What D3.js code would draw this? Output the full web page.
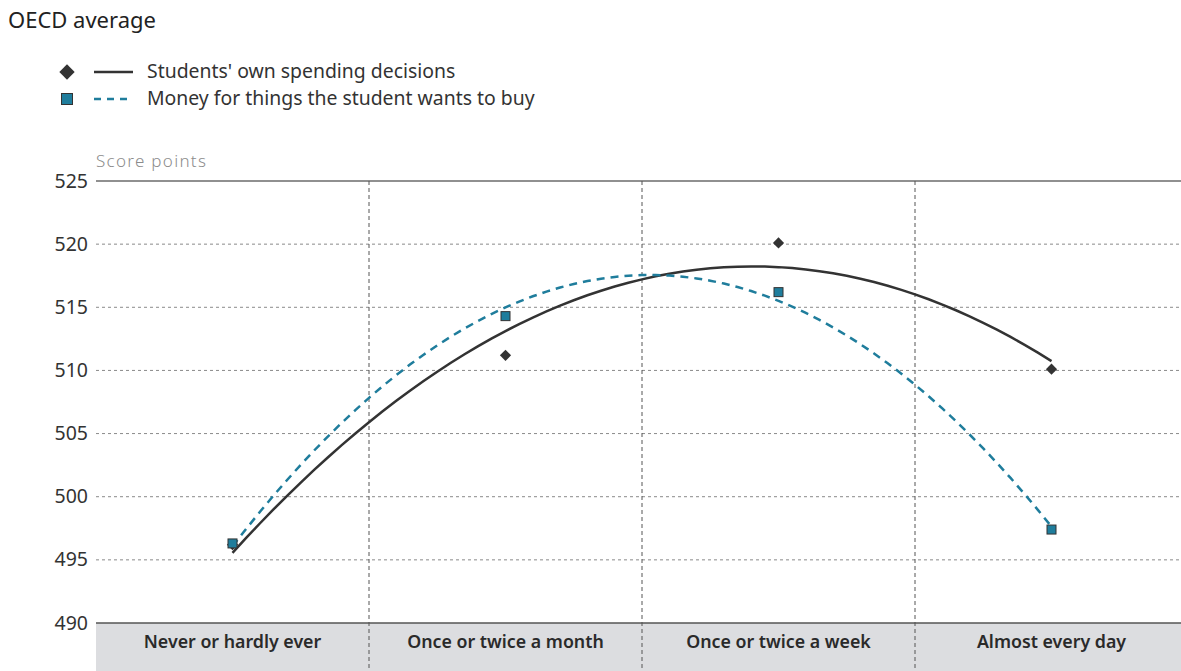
<!DOCTYPE html>
<html>
<head>
<meta charset="utf-8">
<script src="https://cdn.jsdelivr.net/npm/d3@7"></script>
<style>
  body { margin: 0; background: #fff; }
  svg { display: block; font-family: "Noto Sans", "Open Sans", sans-serif; }
</style>
</head>
<body>
<div id="chart"></div>
<script>
// categories and values
var categories = ["Never or hardly ever", "Once or twice a month", "Once or twice a week", "Almost every day"];
var ownSpending = [496.2, 511.2, 520.1, 510.1];
var moneyToBuy = [496.3, 514.3, 516.2, 497.4];
var yTicks = [490, 495, 500, 505, 510, 515, 520, 525];

var W = 1181, H = 671;
var plot = {left: 96, right: 1188, top: 181, bottom: 623};
var dark = "#333333", teal = "#1f7d9c";

var svg = d3.select("#chart").append("svg")
    .attr("width", W)
    .attr("height", H);

var x = d3.scaleBand()
    .domain(categories)
    .range([plot.left, plot.right]);

var y = d3.scaleLinear()
    .domain([490, 525])
    .range([plot.bottom, plot.top]);

// index -> pixel, for the fitted curves
var xi = d3.scaleLinear()
    .domain([0, categories.length - 1])
    .range([x(categories[0]) + x.bandwidth() / 2, x(categories[categories.length - 1]) + x.bandwidth() / 2]);

//category band at the bottom
svg.append("rect")
    .attr("x", plot.left)
    .attr("y", plot.bottom)
    .attr("width", W - plot.left)
    .attr("height", H - plot.bottom)
    .attr("fill", "#dcdde0");

//horizontal grid
svg.selectAll(".grid")
    .data(yTicks.filter(function (d) { return d != 490 && d != 525; }))
    .enter().append("line")
    .attr("x1", plot.left).attr("x2", W)
    .attr("y1", function (d) { return y(d); })
    .attr("y2", function (d) { return y(d); })
    .attr("stroke", "#8a8a8a")
    .attr("stroke-width", 1)
    .attr("stroke-dasharray", "3,3");

[525, 490].forEach(function (v) {
    svg.append("line")
        .attr("x1", plot.left).attr("x2", W)
        .attr("y1", y(v)).attr("y2", y(v))
        .attr("stroke", v == 525 ? "#222" : "#555")
        .attr("stroke-width", v == 525 ? 1.2 : 1.5);
});

//vertical separators between categories
svg.selectAll(".sep")
    .data(categories.slice(1))
    .enter().append("line")
    .attr("x1", function (d) { return x(d); })
    .attr("x2", function (d) { return x(d); })
    .attr("y1", plot.top).attr("y2", H)
    .attr("stroke", "#555")
    .attr("stroke-width", 1)
    .attr("stroke-dasharray", "4,3");

//y labels
svg.selectAll(".ylab")
    .data(yTicks)
    .enter().append("text")
    .attr("x", 88)
    .attr("y", function (d) { return y(d) + 6.5; })
    .attr("text-anchor", "end")
    .attr("font-size", 19.5)
    .attr("fill", "#333")
    .text(function (d) { return d; });

svg.append("text")
    .attr("x", 96).attr("y", 167)
    .attr("font-size", 17)
    .attr("font-weight", 300)
    .attr("letter-spacing", 1.3)
    .attr("fill", "#8c8c8c")
    .text("Score points");

//category labels
svg.selectAll(".xlab")
    .data(categories)
    .enter().append("text")
    .attr("x", function (d) { return x(d) + x.bandwidth() / 2; })
    .attr("y", 648)
    .attr("text-anchor", "middle")
    .attr("font-size", 17.8)
    .attr("font-weight", 600)
    .attr("fill", "#2a2a2a")
    .text(function (d) { return d; });

svg.append("text")
    .attr("x", 8).attr("y", 28)
    .attr("font-size", 22)
    .attr("fill", "#222")
    .text("OECD average");

//quadratic least squares trend
function quadFit(vals) {
    var s = [0, 0, 0, 0, 0], t = [0, 0, 0];
    vals.forEach(function (v, i) {
        for (var k = 0; k < 5; k++) s[k] += Math.pow(i, k);
        for (var k = 0; k < 3; k++) t[k] += v * Math.pow(i, k);
    });
    var m = [[s[0], s[1], s[2], t[0]], [s[1], s[2], s[3], t[1]], [s[2], s[3], s[4], t[2]]];
    for (var c = 0; c < 3; c++) {
        for (var r = c + 1; r < 3; r++) {
            var f = m[r][c] / m[c][c];
            for (var k = c; k < 4; k++) m[r][k] -= f * m[c][k];
        }
    }
    var b = [0, 0, 0];
    for (var r = 2; r >= 0; r--) {
        var acc = m[r][3];
        for (var k = r + 1; k < 3; k++) acc -= m[r][k] * b[k];
        b[r] = acc / m[r][r];
    }
    return function (i) { return b[0] + b[1] * i + b[2] * i * i; };
}

var steps = d3.range(0, 3.0001, 0.05);
var line = d3.line()
    .x(function (d) { return xi(d[0]); })
    .y(function (d) { return y(d[1]); });

var fitOwn = quadFit(ownSpending);
var fitMoney = quadFit(moneyToBuy);

svg.append("path")
    .attr("d", line(steps.map(function (i) { return [i, fitOwn(i)]; })))
    .attr("fill", "none")
    .attr("stroke", dark)
    .attr("stroke-width", 2.5);

svg.append("path")
    .attr("d", line(steps.map(function (i) { return [i, fitMoney(i)]; })))
    .attr("fill", "none")
    .attr("stroke", teal)
    .attr("stroke-width", 2.5)
    .attr("stroke-dasharray", "8,6");

//markers
var diamond = d3.symbol().type(d3.symbolDiamond2).size(80);
svg.selectAll(".own")
    .data(ownSpending)
    .enter().append("path")
    .attr("d", diamond)
    .attr("transform", function (d, i) { return "translate(" + xi(i) + "," + y(d) + ")"; })
    .attr("fill", dark);

svg.selectAll(".money")
    .data(moneyToBuy)
    .enter().append("rect")
    .attr("x", function (d, i) { return xi(i) - 4.5; })
    .attr("y", function (d) { return y(d) - 4.5; })
    .attr("width", 9).attr("height", 9)
    .attr("fill", teal)
    .attr("stroke", "#333")
    .attr("stroke-width", 1);

//legend
var legend = svg.append("g");
legend.append("path")
    .attr("d", d3.symbol().type(d3.symbolDiamond2).size(150))
    .attr("transform", "translate(67,72)")
    .attr("fill", dark);
legend.append("line")
    .attr("x1", 94).attr("x2", 133).attr("y1", 72).attr("y2", 72)
    .attr("stroke", dark).attr("stroke-width", 2.5);
legend.append("text")
    .attr("x", 147).attr("y", 78)
    .attr("font-size", 19.4)
    .attr("fill", "#333")
    .text("Students' own spending decisions");

legend.append("rect")
    .attr("x", 61.5).attr("y", 93.5).attr("width", 11).attr("height", 11)
    .attr("fill", teal).attr("stroke", "#333").attr("stroke-width", 1);
legend.append("line")
    .attr("x1", 94).attr("x2", 133).attr("y1", 99).attr("y2", 99)
    .attr("stroke", teal).attr("stroke-width", 2.5)
    .attr("stroke-dasharray", "7,6");
legend.append("text")
    .attr("x", 147).attr("y", 105)
    .attr("font-size", 19.4)
    .attr("fill", "#333")
    .text("Money for things the student wants to buy");
</script>
</body>
</html>
